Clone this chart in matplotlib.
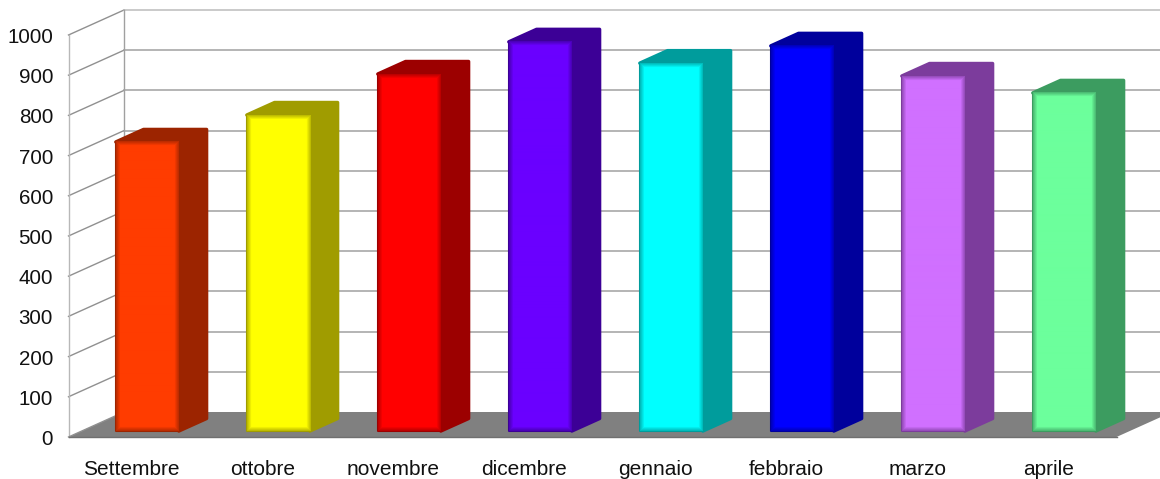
import matplotlib
matplotlib.use("Agg")
import matplotlib.pyplot as plt
import matplotlib.colors as mc
import numpy as np
from matplotlib.patches import Polygon

mesi = ['Settembre', 'ottobre', 'novembre', 'dicembre', 'gennaio', 'febbraio', 'marzo', 'aprile']
valori = [719, 786, 888, 968, 915, 958, 883, 841]
colori = ['#ff3c00', '#ffff00', '#ff0000', '#6a00ff', '#00ffff', '#0000ff', '#d070ff', '#6cff9c']
fianchi = ['#9c2400', '#a09c00', '#9c0000', '#3c0096', '#009c9c', '#00009c', '#7c3c9c', '#3c9c60']
tacche = list(range(0, 1001, 100))

plt.rcParams['font.family'] = ['Liberation Sans', 'DejaVu Sans']

fig = plt.figure(figsize=(11.6, 4.79), dpi=100)
ax = fig.add_axes([0, 0, 1, 1])
# one category = 131 px, 100 units = 40.2 px
limx = (-0.5 - 68.5 / 131, 7.5 + 43.5 / 131)
limy = (-(479 - 437) / 0.402, 437 / 0.402)
ax.axis('off')

# oblique depth of the box, in data units
dx = 55.5 / 131
dy = 25 / 0.402
xa, xb = -0.5, 7.5


def proj(x, v, d):
    return x + d * dx, v + d * dy


# front face with soft darker edges
def faccia(c, s, w, h, bordo=4.5):
    yy, xx = np.mgrid[0:h, 0:w]
    dist = np.minimum.reduce([xx + 0.5, w - xx - 0.5, yy + 0.5, h - yy - 0.5])
    k = np.clip(1 - dist / bordo, 0, 1)[..., None] * 0.75
    return (1 - k) * np.array(mc.to_rgb(c)) + k * np.array(mc.to_rgb(s))


# floor
ax.add_patch(Polygon([proj(xa, 0, 0), proj(xb, 0, 0), proj(xb, 0, 1), proj(xa, 0, 1)],
                     closed=True, fc='#808080', ec='none', zorder=1))
ax.plot([xa, xb], [0, 0], color='#707070', lw=1, zorder=2)

# walls and grid
for t in tacche[1:]:
    colore = '#bcbcbc' if t == 1000 else '#a0a0a0'
    ax.plot([xa, proj(xa, t, 1)[0]], [t, proj(xa, t, 1)[1]], color='#909090', lw=1, zorder=1)
    ax.plot([proj(xa, t, 1)[0], proj(xb, t, 1)[0]], [proj(xa, t, 1)[1]] * 2, color=colore, lw=1.1, zorder=1)
ax.plot([xa, xa], [0, 1000], color='#b8b8b8', lw=1, zorder=1)
ax.plot([proj(xa, 0, 1)[0]] * 2, [proj(xa, 0, 1)[1], proj(xa, 1000, 1)[1]], color='#a0a0a0', lw=1, zorder=1)
ax.plot([xa, proj(xa, 0, 1)[0]], [0, proj(xa, 0, 1)[1]], color='#909090', lw=1, zorder=1)

# bars
larg = 63 / 131
d0, d1 = 0.24, 0.74
for i, (v, c, s) in enumerate(zip(valori, colori, fianchi)):
    xs = i - larg / 2
    xe = i + larg / 2
    # side and top faces, round joins give the soft corners
    lato = [proj(xe, 0, d0), proj(xe, 0, d1), proj(xe, v, d1), proj(xs, v, d1), proj(xs, v, d0), proj(xe, v, d0)]
    ax.add_patch(Polygon(lato, closed=True, fc=s, ec=s, lw=2.5, joinstyle='round', zorder=3))
    x0, y0 = proj(xs, 0, d0)
    x1, y1 = proj(xe, v, d0)
    ax.add_patch(Polygon([(x0, y0), (x1, y0), (x1, y1), (x0, y1)], closed=True, fc=s, ec=s,
                         lw=1.5, joinstyle='round', zorder=4))
    ax.imshow(faccia(c, s, 63, int(v * 0.402)), extent=(x0, x1, y0, y1), origin='lower',
              aspect='auto', interpolation='bilinear', zorder=5)

ax.set_xlim(limx)
ax.set_ylim(limy)

# tick labels
for t in tacche:
    ax.text(xa - 15.5 / 131, t - 2.5 / 0.402, str(t), ha='right', va='center', fontsize=14.8, color='#111111')
for i, m in enumerate(mesi):
    ax.text(i - 2.5 / 131, -32.5 / 0.402, m, ha='center', va='center', fontsize=15, color='#111111')

fig.savefig('out.png', dpi=100)
